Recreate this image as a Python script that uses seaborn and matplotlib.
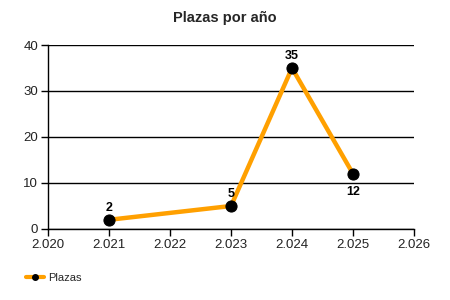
import matplotlib
matplotlib.use("Agg")
import matplotlib.pyplot as plt
import seaborn as sns
import pandas as pd
from matplotlib.ticker import FuncFormatter
from matplotlib.lines import Line2D

years = [2021, 2023, 2024, 2025]
plazas = [2, 5, 35, 12]
label_pos = ["above", "above", "above", "below"]

sns.set_theme(style="white")
plt.rcParams['font.family'] = ['Liberation Sans', 'DejaVu Sans']

df = pd.DataFrame({"year": years, "Plazas": plazas})

fig = plt.figure(figsize=(4.5, 3.0), dpi=100)
ax = fig.add_axes([0.1067, 0.2367, 0.8133, 0.6133])
sns.lineplot(data=df, x="year", y="Plazas", ax=ax, color="#FFA000", linewidth=3.2,
             marker="o", markersize=8, markerfacecolor="black", markeredgecolor="black")

ax.set_xlim(2020, 2026)
ax.set_ylim(0, 40)
ax.set_xticks(range(2020, 2027))
ax.set_yticks(range(0, 41, 10))
ax.xaxis.set_major_formatter(FuncFormatter(lambda v, p: f"{int(v)//1000}.{int(v)%1000:03d}"))
ax.grid(axis="y", color="black", linewidth=1)
ax.grid(axis="x", visible=False)
for s in ["top", "right"]:
    ax.spines[s].set_visible(False)
for s in ["left", "bottom"]:
    ax.spines[s].set_color("black")
    ax.spines[s].set_linewidth(1)
ax.tick_params(axis="both", which="major", length=5, width=1, color="black",
               labelsize=9.5, labelcolor="#222222", pad=2, bottom=True, left=True)
ax.set_xlabel("")
ax.set_ylabel("")

for x, y, pos in zip(years, plazas, label_pos):
    off = 8.5 if pos == "above" else -13
    ax.annotate(str(y), (x, y), textcoords="offset points", xytext=(0, off),
                ha="center", va="center", fontsize=9, fontweight="bold", color="black")

fig.text(0.5, 0.94, "Plazas por año", ha="center", va="center", fontsize=10.5, fontweight="bold")

handle = Line2D([], [], color="#FFA000", linewidth=3, marker="o", markersize=4,
                markerfacecolor="black", markeredgecolor="black")
fig.legend([handle], ["Plazas"], loc="center left", bbox_to_anchor=(0.035, 0.073),
           frameon=False, fontsize=8, handlelength=1.6, handletextpad=0.4)

fig.savefig("out.png", dpi=100)
